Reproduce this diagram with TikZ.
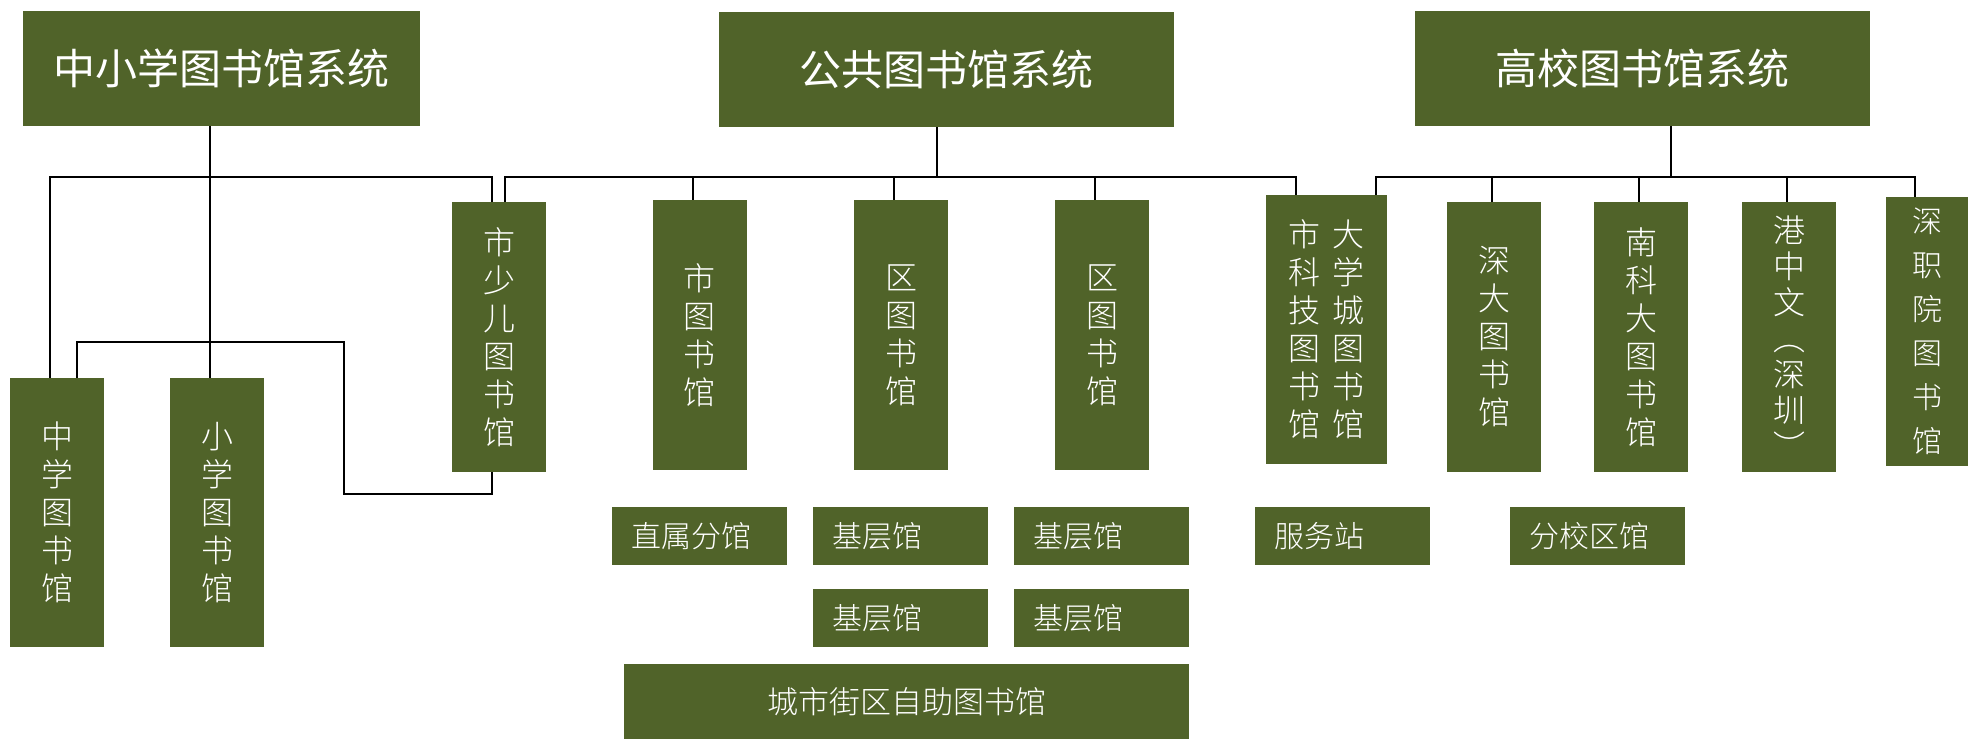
\documentclass[tikz,border=0pt]{standalone}
\usepackage{fontspec}
\newfontfamily\cjk{Noto Sans CJK SC}
\newfontfamily\cjklight{Noto Sans CJK SC Light}
\definecolor{olivebox}{RGB}{80,99,41}
\begin{document}
\begin{tikzpicture}[x=1pt,y=-1pt,
  box/.style={fill=olivebox, text=white, inner sep=0pt, draw=none},
  titlebox/.style={box, minimum height=115pt, font=\cjk\fontsize{42}{50}\selectfont},
  vbox/.style={box, minimum width=94pt, minimum height=270pt, align=center, font=\cjklight\fontsize{32}{38}\selectfont},
  sbox/.style={box, minimum width=175pt, minimum height=58pt, text width=137pt, align=left, font=\cjklight\fontsize{30}{36}\selectfont},
  conn/.style={draw=black, line width=2.2pt}]
\useasboundingbox (0,0) rectangle (1968,739);
\fill[white] (0,0) rectangle (1968,739);
% titles
\node[titlebox, minimum width=397pt] (T1) at (221.5,68.5) {中小学图书馆系统};
\node[titlebox, minimum width=455pt] (T2) at (946.5,69.5) {公共图书馆系统};
\node[titlebox, minimum width=455pt] (T3) at (1642.5,68.5) {高校图书馆系统};
% vertical boxes
\node[vbox, minimum height=269pt] (zhong) at (57,512.5) {中\\学\\图\\书\\馆};
\node[vbox, minimum height=269pt] (xiao) at (217,512.5) {小\\学\\图\\书\\馆};
\node[vbox] (shaoer) at (499,337) {市\\少\\儿\\图\\书\\馆};
\node[vbox] (shitu) at (699.5,335) {市\\图\\书\\馆};
\node[vbox] (qu1) at (901,335) {区\\图\\书\\馆};
\node[vbox] (qu2) at (1102,335) {区\\图\\书\\馆};
\node[vbox, minimum width=121pt, minimum height=269pt] (keji) at (1326.5,329.5)
  {市\hspace{12pt}大\\科\hspace{12pt}学\\技\hspace{12pt}城\\图\hspace{12pt}图\\书\hspace{12pt}书\\馆\hspace{12pt}馆};
\node[vbox] (shenda) at (1494,337) {深\\大\\图\\书\\馆};
\node[vbox] (nanke) at (1641,337) {南\\科\\大\\图\\书\\馆};
\node[vbox, font=\cjklight\fontsize{32}{36}\selectfont] (gang) at (1789,337) {港\\中\\文\\︵\\深\\圳\\︶};
\node[vbox, minimum width=82pt, minimum height=269pt, font=\cjklight\fontsize{30}{44}\selectfont] (shenzhi) at (1927,331.5) {深\\职\\院\\图\\书\\馆};
% small boxes
\node[sbox] (zhishu) at (699.5,536) {直属分馆};
\node[sbox] (jc1) at (900.5,536) {基层馆};
\node[sbox] (jc2) at (1101.5,536) {基层馆};
\node[sbox] (fuwu) at (1342.5,536) {服务站};
\node[sbox] (fenxiao) at (1597.5,536) {分校区馆};
\node[sbox] (jc3) at (900.5,618) {基层馆};
\node[sbox] (jc4) at (1101.5,618) {基层馆};
\node[box, minimum width=565pt, minimum height=75pt, font=\cjklight\fontsize{31}{36}\selectfont] (jiequ) at (906.5,701.5) {城市街区自助图书馆};
% junction coordinates
\coordinate (a1) at (210,177);
\coordinate (b1l) at (50,177);
\coordinate (b1r) at (492,177);
\coordinate (c1) at (77,342);
\coordinate (c2) at (344,494);
\coordinate (a2) at (937,177);
\coordinate (b2l) at (505,177);
\coordinate (b2r) at (1296,177);
\coordinate (p1) at (693,177);
\coordinate (p2) at (894,177);
\coordinate (p3) at (1095,177);
\coordinate (a3) at (1671,177);
\coordinate (b3l) at (1376,177);
\coordinate (b3r) at (1915,177);
\coordinate (q1) at (1492,177);
\coordinate (q2) at (1639,177);
\coordinate (q3) at (1787,177);
% school system
\draw[conn] (T1.south -| a1) -- (xiao.north -| a1);
\draw[conn] (zhong.north -| b1l) -- (b1l) -- (b1r) -- (shaoer.north -| b1r);
\draw[conn] (zhong.north -| c1) -- (c1) -| (c2) -| (shaoer.south -| b1r);
% public system
\draw[conn] (T2.south -| a2) -- (a2);
\draw[conn] (shaoer.north -| b2l) -- (b2l) -- (b2r) -- (keji.north -| b2r);
\draw[conn] (p1) -- (shitu.north -| p1);
\draw[conn] (p2) -- (qu1.north -| p2);
\draw[conn] (p3) -- (qu2.north -| p3);
% university system
\draw[conn] (T3.south -| a3) -- (a3);
\draw[conn] (keji.north -| b3l) -- (b3l) -- (b3r) -- (shenzhi.north -| b3r);
\draw[conn] (q1) -- (shenda.north -| q1);
\draw[conn] (q2) -- (nanke.north -| q2);
\draw[conn] (q3) -- (gang.north -| q3);
\end{tikzpicture}
\end{document}
